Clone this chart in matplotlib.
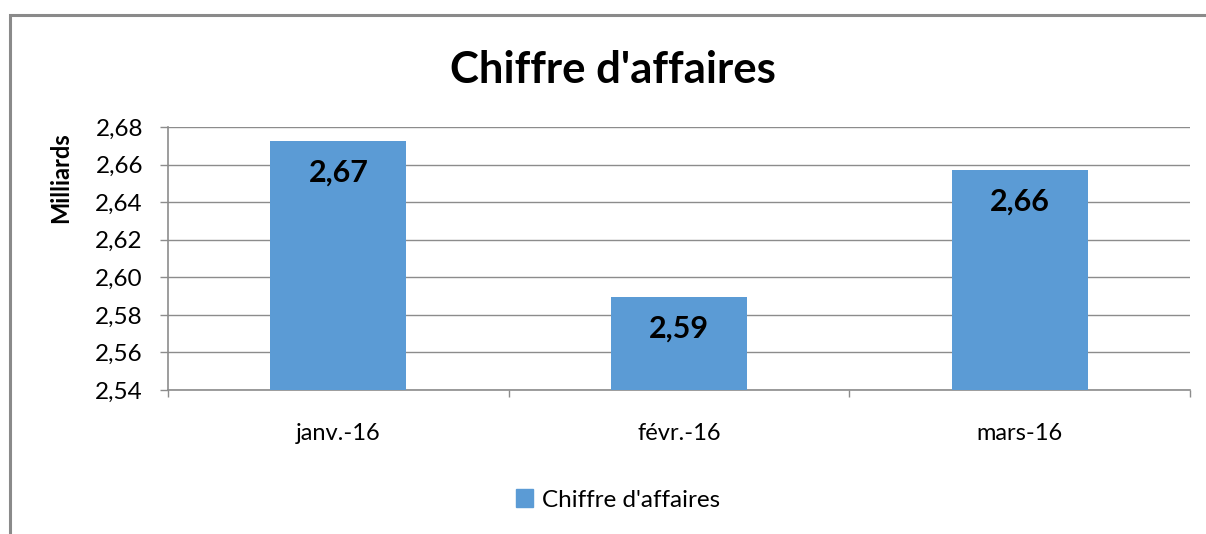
import matplotlib
matplotlib.use("Agg")
import matplotlib.pyplot as plt
from matplotlib.patches import Rectangle
from matplotlib.ticker import FixedLocator, FuncFormatter

categories = ["janv.-16", "févr.-16", "mars-16"]
values = [2.6725, 2.5895, 2.6571]
labels = ["2,67", "2,59", "2,66"]
yticks = [2.54, 2.56, 2.58, 2.60, 2.62, 2.64, 2.66, 2.68]
series_name = "Chiffre d'affaires"
title = "Chiffre d'affaires"
ylabel = "Milliards"

FONT = ["Lato", "DejaVu Sans"]
plt.rcParams['font.family'] = FONT
BAR = "#5B9BD5"
GRID = "#8C8C8C"

W, H = 1206, 534
fig = plt.figure(figsize=(W / 100, H / 100), dpi=100)
fig.patch.set_facecolor("white")

# outer chart border (cut at right and bottom as in reference)
fig.add_artist(Rectangle((10 / W, -0.1), 1.1, (1 - 15 / H) + 0.1, transform=fig.transFigure,
                         fill=False, edgecolor="#8A8A8A", linewidth=2.2))

ax = fig.add_axes([168 / W, 1 - 390 / H, (1190 - 168) / W, (390 - 127) / H])
x = list(range(len(categories)))
ax.bar(x, values, width=0.4, color=BAR, zorder=3)
ax.set_xlim(-0.5, len(categories) - 0.5)
ax.set_ylim(2.54, 2.68)

ax.yaxis.set_major_locator(FixedLocator(yticks))
ax.yaxis.set_major_formatter(FuncFormatter(lambda v, p: f"{v:.2f}".replace(".", ",")))
ax.grid(axis="y", color=GRID, linewidth=1.0, zorder=0)
ax.set_axisbelow(True)

ax.set_xticks(x)
ax.set_xticklabels(categories, fontsize=17)
ax.tick_params(axis="x", length=0, pad=24)
ax.set_xticks([-0.5 + i for i in range(len(categories) + 1)], minor=True)
ax.tick_params(axis="x", which="minor", length=5, color=GRID, width=1)
ax.tick_params(axis="y", labelsize=17.5, length=6, color=GRID, width=1, pad=12)

for s in ["top", "right"]:
    ax.spines[s].set_visible(False)
for s in ["left", "bottom"]:
    ax.spines[s].set_color(GRID)
    ax.spines[s].set_linewidth(1.2)

for xi, v, lab in zip(x, values, labels):
    ax.annotate(lab, (xi, v), xytext=(0, -32), textcoords="offset pixels",
                ha="center", va="center", fontsize=22, fontweight="bold", color="black", zorder=4)

fig.text(613 / W, 1 - 70 / H, title, ha="center", va="center", fontsize=31.5, fontweight="bold")
fig.text(61 / W, 1 - 178 / H, ylabel, ha="center", va="center", rotation=90,
         fontsize=17, fontweight="bold")

# legend
leg = ax.legend([Rectangle((0, 0), 1, 1, color=BAR)], [series_name], loc="center",
                bbox_to_anchor=(618 / W, 1 - 500 / H), bbox_transform=fig.transFigure,
                frameon=False, fontsize=17.5, handlelength=0.7, handleheight=0.7,
                handletextpad=0.35)

fig.savefig("out.png", dpi=100, facecolor="white")
